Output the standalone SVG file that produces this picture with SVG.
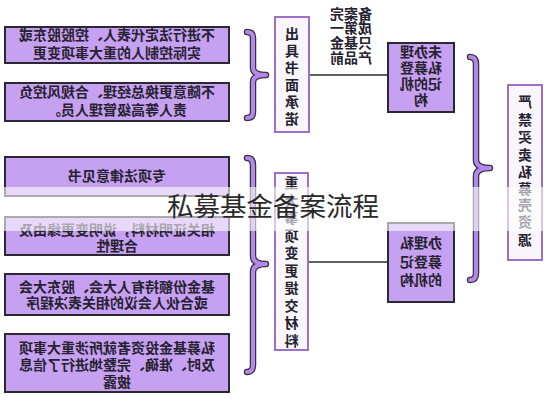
<svg xmlns="http://www.w3.org/2000/svg" width="546" height="400" viewBox="0 0 546 400">
<style>
.pbox{fill:#c6a1f2;stroke:#2b2833;stroke-width:2}
.lbox{fill:#f8f6fa;stroke:#9e6fc6;stroke-width:2}
.t{font-family:"Noto Sans CJK SC","Liberation Sans",sans-serif;font-size:14px;font-weight:bold;fill:#262230;text-anchor:middle}
.tv{font-family:"Noto Sans CJK SC","Liberation Sans",sans-serif;font-size:14px;font-weight:bold;fill:#262230;text-anchor:middle}
.conn{stroke:#2b2b2b;stroke-width:1.6;fill:none}
.braceO{stroke:#3a3040;stroke-width:6.5;fill:none;stroke-linecap:round;stroke-linejoin:round}
.braceI{stroke:#b488ea;stroke-width:4;fill:none;stroke-linecap:round;stroke-linejoin:round}
</style>
<rect width="546" height="400" fill="#ffffff"/>
<g id="connectors">
<line class="conn" x1="309" y1="75" x2="388" y2="75"/>
<line class="conn" x1="308" y1="262" x2="388" y2="262"/>
<path class="braceO" d="M247,32 Q253,32 253,38 L253,68 Q253,75 266,75 Q253,75 253,82 L253,112 Q253,118 247,118"/>
<path class="braceI" d="M247,32 Q253,32 253,38 L253,68 Q253,75 266,75 Q253,75 253,82 L253,112 Q253,118 247,118"/>
<path class="braceO" d="M247,158 Q253,158 253,165 L253,256 Q253,264 266,264 Q253,264 253,272 L253,365 Q253,372 247,372"/>
<path class="braceI" d="M247,158 Q253,158 253,165 L253,256 Q253,264 266,264 Q253,264 253,272 L253,365 Q253,372 247,372"/>
<path class="braceO" d="M470,57 Q476,57 476,64 L476,160 Q476,168 490,168 Q476,168 476,176 L476,273 Q476,280 470,280"/>
<path class="braceI" d="M470,57 Q476,57 476,64 L476,160 Q476,168 490,168 Q476,168 476,176 L476,273 Q476,280 470,280"/>
</g>
<g id="n1"><rect class="pbox" x="5" y="27" width="224" height="36"/>
<text class="t" x="117" y="40" transform="matrix(-1 0 0 1 234 0)">不进行法定代表人、控股股东或</text>
<text class="t" x="117" y="58" transform="matrix(-1 0 0 1 234 0)">实际控制人的重大事项变更</text></g>
<g id="n2"><rect class="pbox" x="5" y="83" width="224" height="38"/>
<text class="t" x="117" y="97" transform="matrix(-1 0 0 1 234 0)">不随意更换总经理、合规风控负</text>
<text class="t" x="117" y="115" transform="matrix(-1 0 0 1 234 0)">责人等高级管理人员。</text></g>
<g id="n3"><rect class="pbox" x="5" y="157" width="224" height="39"/>
<text class="t" x="117" y="181" transform="matrix(-1 0 0 1 234 0)">专项法律意见书</text></g>
<g id="n4"><rect class="pbox" x="5" y="217" width="224" height="38"/>
<text class="t" x="117" y="235" transform="matrix(-1 0 0 1 234 0)">相关证明材料，说明变更缘由及</text>
<text class="t" x="117" y="251" transform="matrix(-1 0 0 1 234 0)">合理性</text></g>
<g id="n5"><rect class="pbox" x="5" y="274" width="224" height="41"/>
<text class="t" x="117" y="292" transform="matrix(-1 0 0 1 234 0)">基金份额持有人大会、股东大会</text>
<text class="t" x="117" y="308" transform="matrix(-1 0 0 1 234 0)">或合伙人会议的相关表决程序</text></g>
<g id="n6"><rect class="pbox" x="5" y="334" width="224" height="58"/>
<text class="t" x="117" y="353" transform="matrix(-1 0 0 1 234 0)">私募基金投资者就所涉重大事项</text>
<text class="t" x="117" y="370" transform="matrix(-1 0 0 1 234 0)">及时、准确、完整地进行了信息</text>
<text class="t" x="117" y="387" transform="matrix(-1 0 0 1 234 0)">披露</text></g>
<g id="n7"><rect class="lbox" x="275" y="17" width="34" height="115"/>
<text class="tv" transform="matrix(-1 0 0 1 584 0)" font-size="15"><tspan x="292" y="39">出</tspan><tspan x="292" y="56">具</tspan><tspan x="292" y="73">书</tspan><tspan x="292" y="90">面</tspan><tspan x="292" y="107">承</tspan><tspan x="292" y="124">诺</tspan></text></g>
<g id="n8">
<text class="t" font-size="13" transform="matrix(-1 0 0 1 702 0)"><tspan x="351" y="19">备案完</tspan><tspan x="351" y="33">成第一</tspan><tspan x="351" y="48">只基金</tspan><tspan x="351" y="63">产品前</tspan></text></g>
<g id="n9"><rect class="lbox" x="275" y="173" width="33" height="177"/>
<text class="tv" transform="matrix(-1 0 0 1 583 0)"><tspan x="291.5" y="188">重</tspan><tspan x="291.5" y="205.5">大</tspan><tspan x="291.5" y="223">事</tspan><tspan x="291.5" y="240.5">项</tspan><tspan x="291.5" y="258">变</tspan><tspan x="291.5" y="275.5">更</tspan><tspan x="291.5" y="293">提</tspan><tspan x="291.5" y="310.5">交</tspan><tspan x="291.5" y="328">材</tspan><tspan x="291.5" y="345.5">料</tspan></text></g>
<g id="n10"><rect class="pbox" x="388" y="43" width="66" height="69"/>
<text class="t" transform="matrix(-1 0 0 1 842 0)"><tspan x="421" y="57">未办理</tspan><tspan x="421" y="73">私募登</tspan><tspan x="421" y="89">记的机</tspan><tspan x="421" y="105">构</tspan></text></g>
<g id="n11"><rect class="pbox" x="388" y="223" width="66" height="79"/>
<text class="t" transform="matrix(-1 0 0 1 842 0)"><tspan x="421" y="248">办理私</tspan><tspan x="421" y="267">募登记</tspan><tspan x="421" y="285">的机构</tspan></text></g>
<g id="n12"><rect class="lbox" x="508" y="85" width="34" height="175"/>
<text class="tv" transform="matrix(-1 0 0 1 1050 0)"><tspan x="525" y="107">严</tspan><tspan x="525" y="125">禁</tspan><tspan x="525" y="142">买</tspan><tspan x="525" y="160">卖</tspan><tspan x="525" y="177">私</tspan><tspan x="525" y="194">募</tspan><tspan x="525" y="210">壳</tspan><tspan x="525" y="227">资</tspan><tspan x="525" y="245">源</tspan></text></g>
<rect x="0" y="187" width="546" height="44" fill="#ffffff" opacity="0.6"/>
<text x="273" y="216" font-family="'Noto Sans CJK SC','Liberation Sans',sans-serif" font-size="26.5" fill="#2a2a2a" text-anchor="middle">私募基金备案流程</text>
</svg>
